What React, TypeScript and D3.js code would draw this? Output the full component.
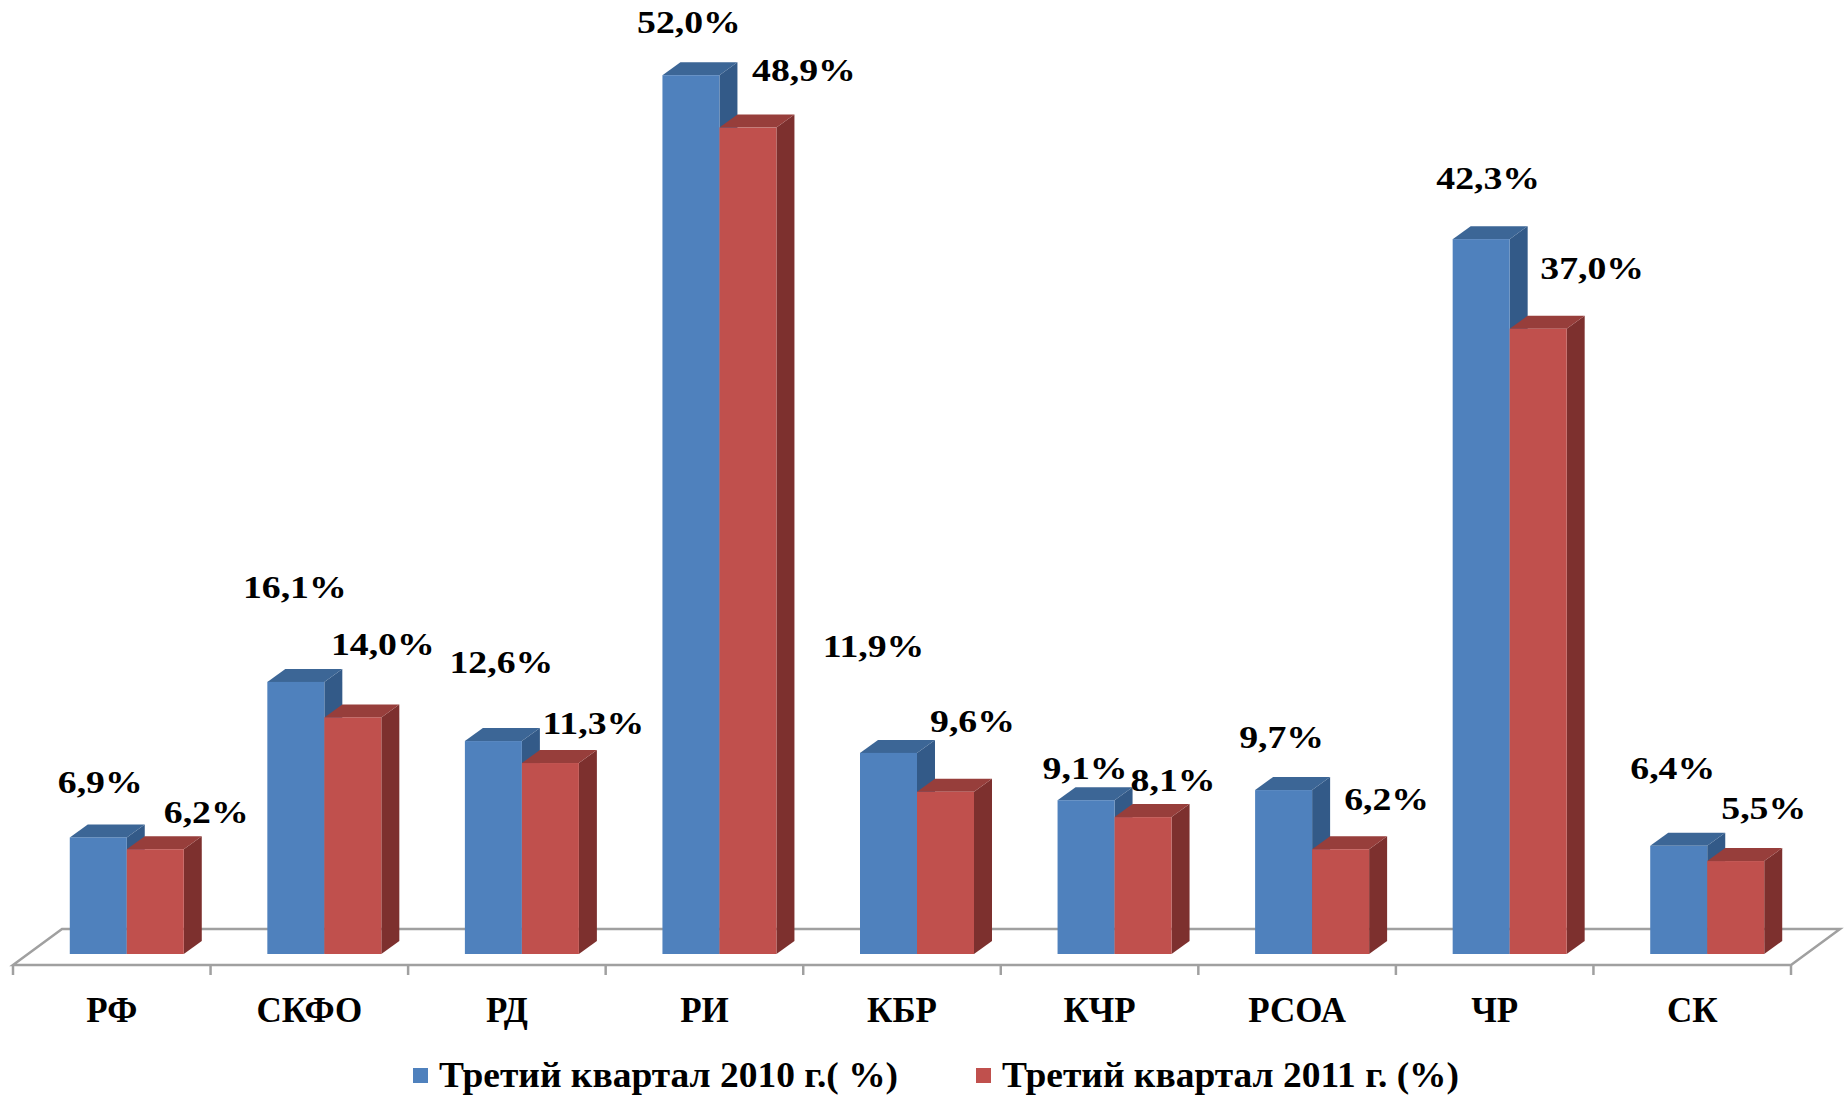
import React from "react";
import * as d3 from "d3";

const categories = ["РФ", "СКФО", "РД", "РИ", "КБР", "КЧР", "РСОА", "ЧР", "СК"];
const values2010 = [6.9, 16.1, 12.6, 52.0, 11.9, 9.1, 9.7, 42.3, 6.4];
const values2011 = [6.2, 14.0, 11.3, 48.9, 9.6, 8.1, 6.2, 37.0, 5.5];
const seriesNames = ["Третий квартал 2010 г.( %)", "Третий квартал 2011 г. (%)"];

// label layout nudges (horizontal shift from bar front centre, rise above bar top)
const labelDx2010 = [2, -1, 8, -2, -15, -1, -2, 7, -6];
const labelRise2010 = [44, 84, 68, 42, 96, 21, 42, 50, 67];
const labelDx2011 = [51, 30, 43, 56, 27, 30, 46, 54, 28];
const labelRise2011 = [26, 62, 29, 47, 60, 26, 39, 50, 42];

const W = 1845;
const H = 1101;
const FONT = "'Liberation Serif', 'Times New Roman', serif";

const colors = [
  { front: "#4f81bd", top: "#3c6696", side: "#335a88" },
  { front: "#c0504d", top: "#973e3b", side: "#7d302e" },
];

const fmt = (v: number) => d3.format(".1f")(v).replace(".", ",") + "%";

export default function App() {
  const floorLeft = 13;
  const floorRight = 1791;
  const floorFront = 965;
  const floorDx = 49;
  const floorDy = -36;
  const barBase = 954;
  const barShift = 15;
  const depthDx = 18;
  const depthDy = -13;
  const barW = 57;

  const x = d3.scaleBand<string>().domain(categories).range([floorLeft, floorRight]);
  const y = d3.scaleLinear().domain([0, 52]).range([barBase, barBase - 52 * 16.9]);
  const sx = d3.scaleBand<number>().domain([0, 1]).range([-barW, barW]);

  const series = [values2010, values2011];
  const dxs = [labelDx2010, labelDx2011];
  const rises = [labelRise2010, labelRise2011];

  const fb = floorFront;
  const floorPath = `M${floorLeft},${fb} L${floorRight},${fb} L${floorRight + floorDx},${fb + floorDy} L${floorLeft + floorDx},${fb + floorDy} Z`;

  return (
    <svg width={W} height={H} style={{ position: "absolute", left: 0, top: 0, background: "#fff" }}>
      <path d={floorPath} fill="none" stroke="#a0a0a0" strokeWidth={2.5} strokeLinejoin="miter" />
      {d3.range(categories.length + 1).map((i) => {
        const tx = floorLeft + i * x.step();
        return <line key={i} x1={tx} x2={tx} y1={fb} y2={fb + 10} stroke="#a0a0a0" strokeWidth={2.5} />;
      })}
      {categories.map((c, i) => {
        const cx = (x(c) as number) + x.bandwidth() / 2 + barShift;
        return (
          <g key={c}>
            {series.map((vals, s) => {
              const x0 = cx + (sx(s) as number);
              const x1 = x0 + sx.bandwidth();
              const yt = y(vals[i]);
              const col = colors[s];
              const side = `M${x1},${barBase} L${x1 + depthDx},${barBase + depthDy} L${x1 + depthDx},${yt + depthDy} L${x1},${yt} Z`;
              const top = `M${x0},${yt} L${x0 + depthDx},${yt + depthDy} L${x1 + depthDx},${yt + depthDy} L${x1},${yt} Z`;
              return (
                <g key={s}>
                  <path d={side} fill={col.side} />
                  <path d={top} fill={col.top} />
                  <rect x={x0} y={yt} width={x1 - x0} height={barBase - yt} fill={col.front} />
                </g>
              );
            })}
          </g>
        );
      })}
      {categories.map((c, i) => {
        const cx = (x(c) as number) + x.bandwidth() / 2 + barShift;
        return series.map((vals, s) => {
          const fc = cx + (sx(s) as number) + sx.bandwidth() / 2;
          return (
            <g key={c + s} transform={`translate(${fc + dxs[s][i]},${y(vals[i]) - rises[s][i]}) scale(1.18,1)`}>
              <text x={0} y={0} textAnchor="middle" fontFamily={FONT} fontWeight="bold" fontSize={32} fill="#000">
                {fmt(vals[i])}
              </text>
            </g>
          );
        });
      })}
      {categories.map((c) => (
        <text
          key={c}
          x={(x(c) as number) + x.bandwidth() / 2}
          y={1022}
          textAnchor="middle"
          fontFamily={FONT}
          fontWeight="bold"
          fontSize={35}
          fill="#000"
        >
          {c}
        </text>
      ))}
      {seriesNames.map((n, s) => {
        const lx = s === 0 ? 413 : 976;
        return (
          <g key={n}>
            <rect x={lx} y={1068} width={15} height={15} fill={colors[s].front} />
            <g transform={`translate(${lx + 26},1087) scale(1.07,1)`}>
              <text x={0} y={0} fontFamily={FONT} fontWeight="bold" fontSize={35} fill="#000">
                {n}
              </text>
            </g>
          </g>
        );
      })}
    </svg>
  );
}
